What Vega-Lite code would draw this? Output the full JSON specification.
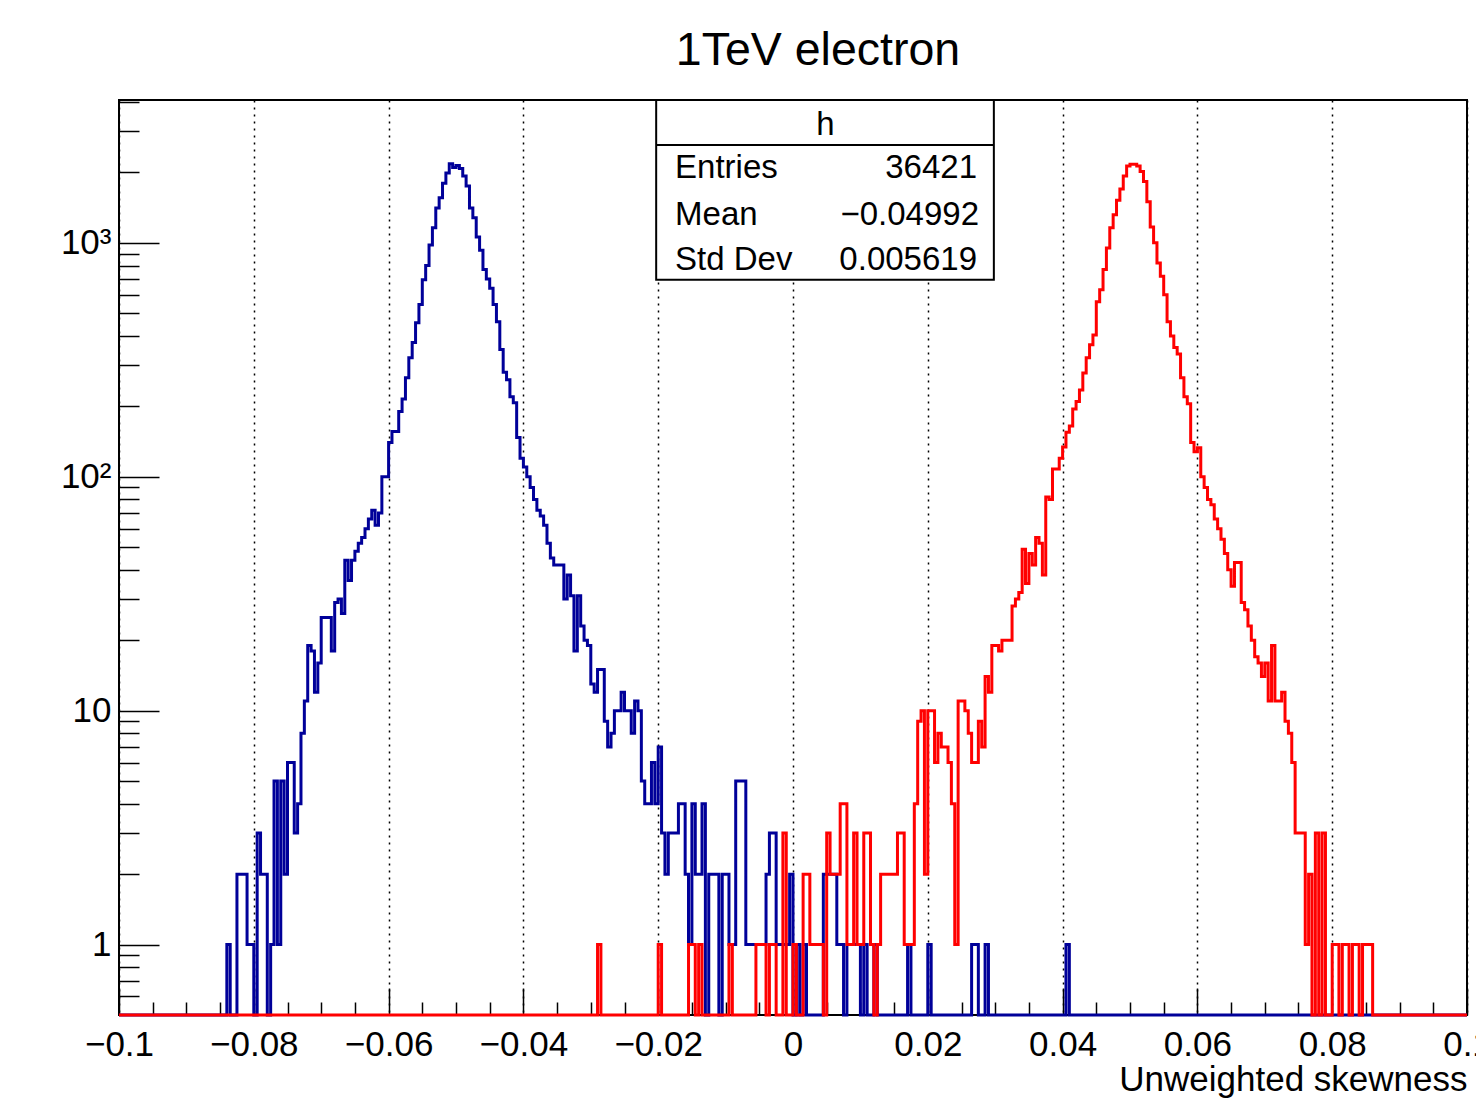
{
"$schema":"https://vega.github.io/schema/vega-lite/v6.json",
"width":1348,"height":915,
"autosize":{"type":"none"},
"padding":{"left":119,"top":100,"right":9,"bottom":86},
"background":"white",
"config":{"font":"Liberation Sans","view":{"stroke":"black","strokeWidth":2}},
"title":{"text":"1TeV electron","fontSize":46.5,"fontWeight":"normal","color":"black","font":"Liberation Sans","anchor":"middle","offset":25,"dx":25},
"datasets":{
"blue":[
{"x":-0.1,"n":0},{"x":-0.0845,"n":0},{"x":-0.084,"n":1},{"x":-0.0835,"n":0},{"x":-0.083,"n":0},{"x":-0.0825,"n":2},{"x":-0.082,"n":2},{"x":-0.0815,"n":2},{"x":-0.081,"n":1},{"x":-0.0805,"n":1},{"x":-0.08,"n":0},
{"x":-0.0795,"n":3},{"x":-0.079,"n":2},{"x":-0.0785,"n":2},{"x":-0.078,"n":0},{"x":-0.0775,"n":1},{"x":-0.077,"n":5},{"x":-0.0765,"n":1},{"x":-0.076,"n":5},{"x":-0.0755,"n":2},{"x":-0.075,"n":6},
{"x":-0.0745,"n":6},{"x":-0.074,"n":3},{"x":-0.0735,"n":4},{"x":-0.073,"n":8},{"x":-0.0725,"n":11},{"x":-0.072,"n":19},{"x":-0.0715,"n":18},{"x":-0.071,"n":12},{"x":-0.0705,"n":16},{"x":-0.07,"n":25},
{"x":-0.0695,"n":25},{"x":-0.069,"n":25},{"x":-0.0685,"n":18},{"x":-0.068,"n":29},{"x":-0.0675,"n":30},{"x":-0.067,"n":26},{"x":-0.0665,"n":44},{"x":-0.066,"n":36},{"x":-0.0655,"n":44},{"x":-0.065,"n":48},
{"x":-0.0645,"n":52},{"x":-0.064,"n":55},{"x":-0.0635,"n":60},{"x":-0.063,"n":66},{"x":-0.0625,"n":72},{"x":-0.062,"n":62},{"x":-0.0615,"n":70},{"x":-0.061,"n":100},{"x":-0.0605,"n":100},{"x":-0.06,"n":140},
{"x":-0.0595,"n":156},{"x":-0.059,"n":156},{"x":-0.0585,"n":190},{"x":-0.058,"n":215},{"x":-0.0575,"n":265},{"x":-0.057,"n":323},{"x":-0.0565,"n":375},{"x":-0.056,"n":455},{"x":-0.0555,"n":545},{"x":-0.055,"n":695},
{"x":-0.0545,"n":800},{"x":-0.054,"n":980},{"x":-0.0535,"n":1160},{"x":-0.053,"n":1410},{"x":-0.0525,"n":1560},{"x":-0.052,"n":1800},{"x":-0.0515,"n":1990},{"x":-0.051,"n":2180},{"x":-0.0505,"n":2100},{"x":-0.05,"n":2140},
{"x":-0.0495,"n":2080},{"x":-0.049,"n":1930},{"x":-0.0485,"n":1750},{"x":-0.048,"n":1410},{"x":-0.0475,"n":1280},{"x":-0.047,"n":1060},{"x":-0.0465,"n":930},{"x":-0.046,"n":770},{"x":-0.0455,"n":700},{"x":-0.045,"n":640},
{"x":-0.0445,"n":545},{"x":-0.044,"n":460},{"x":-0.0435,"n":350},{"x":-0.043,"n":280},{"x":-0.0425,"n":260},{"x":-0.042,"n":220},{"x":-0.0415,"n":207},{"x":-0.041,"n":147},{"x":-0.0405,"n":120},{"x":-0.04,"n":110},
{"x":-0.0395,"n":100},{"x":-0.039,"n":90},{"x":-0.0385,"n":80},{"x":-0.038,"n":72},{"x":-0.0375,"n":68},{"x":-0.037,"n":62},{"x":-0.0365,"n":52},{"x":-0.036,"n":45},{"x":-0.0355,"n":42},{"x":-0.035,"n":42},
{"x":-0.0345,"n":42},{"x":-0.034,"n":30},{"x":-0.0335,"n":38},{"x":-0.033,"n":31},{"x":-0.0325,"n":18},{"x":-0.032,"n":31},{"x":-0.0315,"n":23},{"x":-0.031,"n":20},{"x":-0.0305,"n":19},{"x":-0.03,"n":13},
{"x":-0.0295,"n":12},{"x":-0.029,"n":15},{"x":-0.0285,"n":15},{"x":-0.028,"n":9},{"x":-0.0275,"n":7},{"x":-0.027,"n":8},{"x":-0.0265,"n":10},{"x":-0.026,"n":10},{"x":-0.0255,"n":12},{"x":-0.025,"n":10},
{"x":-0.0245,"n":10},{"x":-0.024,"n":8},{"x":-0.0235,"n":11},{"x":-0.023,"n":10},{"x":-0.0225,"n":5},{"x":-0.022,"n":4},{"x":-0.0215,"n":4},{"x":-0.021,"n":6},{"x":-0.0205,"n":4},{"x":-0.02,"n":7},
{"x":-0.0195,"n":3},{"x":-0.019,"n":2},{"x":-0.0185,"n":3},{"x":-0.018,"n":3},{"x":-0.0175,"n":3},{"x":-0.017,"n":4},{"x":-0.0165,"n":4},{"x":-0.016,"n":2},{"x":-0.0155,"n":1},{"x":-0.015,"n":4},
{"x":-0.0145,"n":2},{"x":-0.014,"n":2},{"x":-0.0135,"n":4},{"x":-0.013,"n":0},{"x":-0.0125,"n":2},{"x":-0.012,"n":2},{"x":-0.0115,"n":2},{"x":-0.011,"n":0},{"x":-0.0105,"n":2},{"x":-0.01,"n":2},
{"x":-0.0095,"n":1},{"x":-0.009,"n":1},{"x":-0.0085,"n":5},{"x":-0.008,"n":5},{"x":-0.0075,"n":5},{"x":-0.007,"n":1},{"x":-0.0065,"n":1},{"x":-0.006,"n":1},{"x":-0.0055,"n":1},{"x":-0.005,"n":1},
{"x":-0.0045,"n":1},{"x":-0.004,"n":2},{"x":-0.0035,"n":3},{"x":-0.003,"n":3},{"x":-0.0025,"n":1},{"x":-0.002,"n":1},{"x":-0.0015,"n":1},{"x":-0.001,"n":1},{"x":-0.0005,"n":2},{"x":0,"n":0},
{"x":0.0005,"n":1},{"x":0.001,"n":0},{"x":0.0015,"n":1},{"x":0.002,"n":0},{"x":0.0025,"n":0},{"x":0.003,"n":0},{"x":0.0035,"n":0},{"x":0.004,"n":0},{"x":0.0045,"n":2},{"x":0.005,"n":2},
{"x":0.0055,"n":2},{"x":0.006,"n":2},{"x":0.0065,"n":1},{"x":0.007,"n":1},{"x":0.0075,"n":0},{"x":0.008,"n":1},{"x":0.0085,"n":1},{"x":0.009,"n":1},{"x":0.0095,"n":1},{"x":0.01,"n":0},
{"x":0.0105,"n":1},{"x":0.011,"n":0},{"x":0.0115,"n":0},{"x":0.012,"n":1},{"x":0.0125,"n":0},{"x":0.013,"n":0},{"x":0.0135,"n":0},{"x":0.014,"n":0},{"x":0.0145,"n":0},{"x":0.015,"n":0},
{"x":0.0155,"n":0},{"x":0.016,"n":0},{"x":0.0165,"n":0},{"x":0.017,"n":1},{"x":0.0175,"n":0},{"x":0.018,"n":0},{"x":0.0185,"n":0},{"x":0.019,"n":0},{"x":0.0195,"n":0},{"x":0.02,"n":1},
{"x":0.0205,"n":0},{"x":0.021,"n":0},{"x":0.0215,"n":0},{"x":0.022,"n":0},{"x":0.0225,"n":0},{"x":0.023,"n":0},{"x":0.0235,"n":0},{"x":0.024,"n":0},{"x":0.0245,"n":0},{"x":0.025,"n":0},
{"x":0.0255,"n":0},{"x":0.026,"n":0},{"x":0.0265,"n":1},{"x":0.027,"n":1},{"x":0.0275,"n":0},{"x":0.028,"n":0},{"x":0.0285,"n":1},{"x":0.029,"n":0},{"x":0.0295,"n":0},{"x":0.03,"n":0},
{"x":0.0305,"n":0},{"x":0.031,"n":0},{"x":0.0315,"n":0},{"x":0.032,"n":0},{"x":0.0325,"n":0},{"x":0.033,"n":0},{"x":0.0335,"n":0},{"x":0.034,"n":0},{"x":0.0345,"n":0},{"x":0.035,"n":0},
{"x":0.0355,"n":0},{"x":0.036,"n":0},{"x":0.0365,"n":0},{"x":0.037,"n":0},{"x":0.0375,"n":0},{"x":0.038,"n":0},{"x":0.0385,"n":0},{"x":0.039,"n":0},{"x":0.0395,"n":0},{"x":0.04,"n":0},
{"x":0.0405,"n":1},{"x":0.041,"n":0},{"x":0.1,"n":0}
],
"red":[
{"x":-0.1,"n":0},{"x":-0.0295,"n":0},{"x":-0.029,"n":1},{"x":-0.0285,"n":0},{"x":-0.028,"n":0},{"x":-0.0275,"n":0},{"x":-0.027,"n":0},{"x":-0.0265,"n":0},{"x":-0.026,"n":0},{"x":-0.0255,"n":0},{"x":-0.025,"n":0},
{"x":-0.0245,"n":0},{"x":-0.024,"n":0},{"x":-0.0235,"n":0},{"x":-0.023,"n":0},{"x":-0.0225,"n":0},{"x":-0.022,"n":0},{"x":-0.0215,"n":0},{"x":-0.021,"n":0},{"x":-0.0205,"n":0},{"x":-0.02,"n":1},
{"x":-0.0195,"n":0},{"x":-0.019,"n":0},{"x":-0.0185,"n":0},{"x":-0.018,"n":0},{"x":-0.0175,"n":0},{"x":-0.017,"n":0},{"x":-0.0165,"n":0},{"x":-0.016,"n":0},{"x":-0.0155,"n":1},{"x":-0.015,"n":1},
{"x":-0.0145,"n":0},{"x":-0.014,"n":1},{"x":-0.0135,"n":0},{"x":-0.013,"n":0},{"x":-0.0125,"n":0},{"x":-0.012,"n":0},{"x":-0.0115,"n":0},{"x":-0.011,"n":0},{"x":-0.0105,"n":0},{"x":-0.01,"n":0},
{"x":-0.0095,"n":1},{"x":-0.009,"n":0},{"x":-0.0085,"n":0},{"x":-0.008,"n":0},{"x":-0.0075,"n":0},{"x":-0.007,"n":0},{"x":-0.0065,"n":0},{"x":-0.006,"n":0},{"x":-0.0055,"n":1},{"x":-0.005,"n":1},
{"x":-0.0045,"n":1},{"x":-0.004,"n":0},{"x":-0.0035,"n":1},{"x":-0.003,"n":1},{"x":-0.0025,"n":0},{"x":-0.002,"n":0},{"x":-0.0015,"n":3},{"x":-0.001,"n":0},{"x":-0.0005,"n":0},{"x":0,"n":1},
{"x":0.0005,"n":0},{"x":0.001,"n":0},{"x":0.0015,"n":2},{"x":0.002,"n":2},{"x":0.0025,"n":1},{"x":0.003,"n":1},{"x":0.0035,"n":1},{"x":0.004,"n":1},{"x":0.0045,"n":0},{"x":0.005,"n":3},
{"x":0.0055,"n":2},{"x":0.006,"n":2},{"x":0.0065,"n":2},{"x":0.007,"n":4},{"x":0.0075,"n":4},{"x":0.008,"n":1},{"x":0.0085,"n":1},{"x":0.009,"n":3},{"x":0.0095,"n":1},{"x":0.01,"n":1},
{"x":0.0105,"n":3},{"x":0.011,"n":3},{"x":0.0115,"n":1},{"x":0.012,"n":0},{"x":0.0125,"n":1},{"x":0.013,"n":2},{"x":0.0135,"n":2},{"x":0.014,"n":2},{"x":0.0145,"n":2},{"x":0.015,"n":2},
{"x":0.0155,"n":3},{"x":0.016,"n":3},{"x":0.0165,"n":1},{"x":0.017,"n":1},{"x":0.0175,"n":1},{"x":0.018,"n":4},{"x":0.0185,"n":9},{"x":0.019,"n":10},{"x":0.0195,"n":2},{"x":0.02,"n":10},
{"x":0.0205,"n":10},{"x":0.021,"n":6},{"x":0.0215,"n":8},{"x":0.022,"n":7},{"x":0.0225,"n":7},{"x":0.023,"n":6},{"x":0.0235,"n":4},{"x":0.024,"n":1},{"x":0.0245,"n":11},{"x":0.025,"n":11},
{"x":0.0255,"n":10},{"x":0.026,"n":8},{"x":0.0265,"n":6},{"x":0.027,"n":6},{"x":0.0275,"n":9},{"x":0.028,"n":7},{"x":0.0285,"n":14},{"x":0.029,"n":12},{"x":0.0295,"n":19},{"x":0.03,"n":19},
{"x":0.0305,"n":18},{"x":0.031,"n":20},{"x":0.0315,"n":20},{"x":0.032,"n":20},{"x":0.0325,"n":28},{"x":0.033,"n":30},{"x":0.0335,"n":32},{"x":0.034,"n":49},{"x":0.0345,"n":35},{"x":0.035,"n":47},
{"x":0.0355,"n":42},{"x":0.036,"n":55},{"x":0.0365,"n":52},{"x":0.037,"n":38},{"x":0.0375,"n":82},{"x":0.038,"n":80},{"x":0.0385,"n":108},{"x":0.039,"n":108},{"x":0.0395,"n":120},{"x":0.04,"n":134},
{"x":0.0405,"n":155},{"x":0.041,"n":165},{"x":0.0415,"n":195},{"x":0.042,"n":210},{"x":0.0425,"n":235},{"x":0.043,"n":278},{"x":0.0435,"n":323},{"x":0.044,"n":367},{"x":0.0445,"n":404},{"x":0.045,"n":560},
{"x":0.0455,"n":630},{"x":0.046,"n":770},{"x":0.0465,"n":950},{"x":0.047,"n":1160},{"x":0.0475,"n":1320},{"x":0.048,"n":1520},{"x":0.0485,"n":1700},{"x":0.049,"n":1930},{"x":0.0495,"n":2130},{"x":0.05,"n":2170},
{"x":0.0505,"n":2170},{"x":0.051,"n":2130},{"x":0.0515,"n":2020},{"x":0.052,"n":1830},{"x":0.0525,"n":1500},{"x":0.053,"n":1170},{"x":0.0535,"n":1000},{"x":0.054,"n":820},{"x":0.0545,"n":720},{"x":0.055,"n":600},
{"x":0.0555,"n":460},{"x":0.056,"n":400},{"x":0.0565,"n":357},{"x":0.057,"n":335},{"x":0.0575,"n":265},{"x":0.058,"n":220},{"x":0.0585,"n":205},{"x":0.059,"n":140},{"x":0.0595,"n":128},{"x":0.06,"n":133},
{"x":0.0605,"n":100},{"x":0.061,"n":90},{"x":0.0615,"n":80},{"x":0.062,"n":76},{"x":0.0625,"n":66},{"x":0.063,"n":60},{"x":0.0635,"n":54},{"x":0.064,"n":47},{"x":0.0645,"n":40},{"x":0.065,"n":34},
{"x":0.0655,"n":43},{"x":0.066,"n":43},{"x":0.0665,"n":29},{"x":0.067,"n":27},{"x":0.0675,"n":23},{"x":0.068,"n":20},{"x":0.0685,"n":17},{"x":0.069,"n":16},{"x":0.0695,"n":14},{"x":0.07,"n":16},
{"x":0.0705,"n":11},{"x":0.071,"n":19},{"x":0.0715,"n":11},{"x":0.072,"n":11},{"x":0.0725,"n":12},{"x":0.073,"n":9},{"x":0.0735,"n":8},{"x":0.074,"n":6},{"x":0.0745,"n":3},{"x":0.075,"n":3},
{"x":0.0755,"n":3},{"x":0.076,"n":1},{"x":0.0765,"n":2},{"x":0.077,"n":0},{"x":0.0775,"n":3},{"x":0.078,"n":0},{"x":0.0785,"n":3},{"x":0.079,"n":0},{"x":0.0795,"n":0},{"x":0.08,"n":1},
{"x":0.0805,"n":1},{"x":0.081,"n":0},{"x":0.0815,"n":1},{"x":0.082,"n":1},{"x":0.0825,"n":0},{"x":0.083,"n":1},{"x":0.0835,"n":1},{"x":0.084,"n":0},{"x":0.0845,"n":1},{"x":0.085,"n":1},
{"x":0.0855,"n":1},{"x":0.086,"n":0},{"x":0.1,"n":0}
]
},
"layer":[
{"data":{"name":"blue"},
 "mark":{"type":"line","interpolate":"step-after","color":"#000099","strokeWidth":3,"strokeJoin":"miter"},
 "encoding":{
  "x":{"field":"x","type":"quantitative","scale":{"domain":[-0.1,0.1],"nice":false,"zero":false},
   "axis":{"orient":"bottom","values":[-0.1,-0.08,-0.06,-0.04,-0.02,0,0.02,0.04,0.06,0.08,0.1],"format":"~g","domain":false,
    "tickSize":-27,"tickColor":"black","tickWidth":1.5,"labelPadding":39,"labelFontSize":35,"labelColor":"black","labelFont":"Liberation Sans","labelFlush":false,"labelOverlap":false,
    "grid":true,"gridDash":[2,5],"gridColor":"black","gridOpacity":1,"gridWidth":1.5,
    "title":"Unweighted skewness","titleAnchor":"end","titleFontSize":35,"titleFontWeight":"normal","titleColor":"black","titleFont":"Liberation Sans","titlePadding":0}},
  "y":{"field":"n","type":"quantitative","scale":{"type":"log","domain":[0.5,4080],"nice":false,"clamp":true},
   "axis":{"orient":"left","values":[1,10,100,1000],"format":"~g","labelExpr":"datum.value == 1000 ? '10³' : datum.value == 100 ? '10²' : datum.label","domain":false,
    "tickSize":-40,"tickColor":"black","tickWidth":1.5,"labelPadding":48,"labelFontSize":35,"labelColor":"black","labelFont":"Liberation Sans","grid":false,"title":null}}
 }},
{"data":{"name":"red"},
 "mark":{"type":"line","interpolate":"step-after","color":"#ff0000","strokeWidth":3,"strokeJoin":"miter"},
 "encoding":{
  "x":{"field":"x","type":"quantitative",
   "axis":{"orient":"bottom","values":[-0.095,-0.09,-0.085,-0.075,-0.07,-0.065,-0.055,-0.05,-0.045,-0.035,-0.03,-0.025,-0.015,-0.01,-0.005,0.005,0.01,0.015,0.025,0.03,0.035,0.045,0.05,0.055,0.065,0.07,0.075,0.085,0.09,0.095],
    "labels":false,"domain":false,"grid":false,"tickSize":-13,"tickColor":"black","tickWidth":1.5,"title":null}},
  "y":{"field":"n","type":"quantitative",
   "axis":{"orient":"left","values":[0.6,0.7,0.8,0.9,2,3,4,5,6,7,8,9,20,30,40,50,60,70,80,90,200,300,400,500,600,700,800,900,2000,3000,4000],
    "labels":false,"domain":false,"grid":false,"tickSize":-20,"tickColor":"black","tickWidth":1.5,"title":null}}
 }},
{"data":{"values":[{}]},
 "mark":{"type":"rect","fill":"white","stroke":"black","strokeWidth":2},
 "encoding":{"x":{"datum":-0.0203,"axis":null},"x2":{"datum":0.0298},"y":{"datum":4080,"axis":null},"y2":{"datum":696}}},
{"data":{"values":[{}]},
 "mark":{"type":"rule","color":"black","strokeWidth":2},
 "encoding":{"x":{"datum":-0.0203,"axis":null},"x2":{"datum":0.0298},"y":{"datum":2622,"axis":null}}},
{"data":{"values":[{}]},
 "mark":{"type":"text","align":"center","baseline":"alphabetic","fontSize":33,"font":"Liberation Sans","color":"black"},
 "encoding":{"x":{"datum":0.0048,"axis":null},"y":{"datum":2893,"axis":null},"text":{"value":"h"}}},
{"data":{"values":[{}]},
 "mark":{"type":"text","align":"left","baseline":"alphabetic","fontSize":33,"font":"Liberation Sans","color":"black"},
 "encoding":{"x":{"datum":-0.0175,"axis":null},"y":{"datum":1896,"axis":null},"text":{"value":"Entries"}}},
{"data":{"values":[{}]},
 "mark":{"type":"text","align":"right","baseline":"alphabetic","fontSize":33,"font":"Liberation Sans","color":"black"},
 "encoding":{"x":{"datum":0.0273,"axis":null},"y":{"datum":1896,"axis":null},"text":{"value":"36421"}}},
{"data":{"values":[{}]},
 "mark":{"type":"text","align":"left","baseline":"alphabetic","fontSize":33,"font":"Liberation Sans","color":"black"},
 "encoding":{"x":{"datum":-0.0175,"axis":null},"y":{"datum":1195,"axis":null},"text":{"value":"Mean"}}},
{"data":{"values":[{}]},
 "mark":{"type":"text","align":"right","baseline":"alphabetic","fontSize":33,"font":"Liberation Sans","color":"black"},
 "encoding":{"x":{"datum":0.0276,"axis":null},"y":{"datum":1195,"axis":null},"text":{"value":"−0.04992"}}},
{"data":{"values":[{}]},
 "mark":{"type":"text","align":"left","baseline":"alphabetic","fontSize":33,"font":"Liberation Sans","color":"black"},
 "encoding":{"x":{"datum":-0.0175,"axis":null},"y":{"datum":768,"axis":null},"text":{"value":"Std Dev"}}},
{"data":{"values":[{}]},
 "mark":{"type":"text","align":"right","baseline":"alphabetic","fontSize":33,"font":"Liberation Sans","color":"black"},
 "encoding":{"x":{"datum":0.0273,"axis":null},"y":{"datum":768,"axis":null},"text":{"value":"0.005619"}}}
],
"resolve":{"axis":{"x":"independent","y":"independent"}}
}
